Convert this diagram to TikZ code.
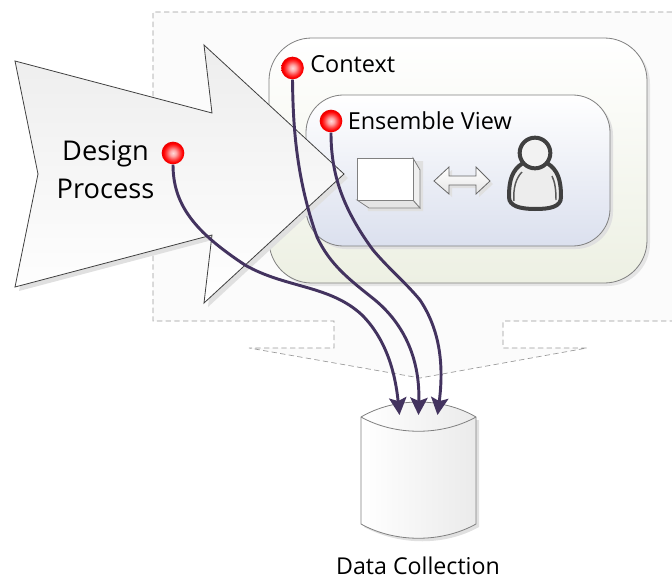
\documentclass[tikz,border=0pt]{standalone}
\usepackage{fontspec}
\setmainfont{Open Sans}
\usetikzlibrary{arrows.meta,shadings}
\definecolor{curvec}{HTML}{43335F}
\definecolor{edgec}{HTML}{808080}
\definecolor{ctxbottom}{HTML}{EDF0E3}
\definecolor{ensbottom}{HTML}{DBE0EE}
\pgfdeclareradialshading{ballshade}{\pgfpoint{0bp}{0bp}}{color(0bp)=(red!15!white); color(7bp)=(red!35!white); color(15bp)=(red!75!white); color(21bp)=(red); color(25bp)=(red!92!black); color(50bp)=(red!92!black)}
\tikzset{
  dot/.style={circle,minimum size=17pt,inner sep=0pt,draw=none,shading=ballshade},
  link/.style={draw=curvec,line width=2.2pt,-{Stealth[length=13pt,width=13pt,inset=2.5pt]}},
  lbl/.style={font=\fontsize{17.6pt}{20pt}\selectfont,inner sep=0pt,anchor=base west,text=black},
  shadowc/.style={fill=black!12,draw=none},
  thin edge/.style={draw=edgec,line width=0.6pt}
}
\begin{document}
\begin{tikzpicture}[x=0.75pt,y=-0.75pt]
\useasboundingbox (0,0) rectangle (672,579);
% dashed callout region
\path[fill=black!1.5,draw=black!40,dash pattern=on 4pt off 2.5pt,line width=0.5pt]
  (672,12) -- (153,12) -- (153,321) -- (334,321) -- (334,348) -- (249,348) -- (420,378)
  -- (587,348) -- (503,348) -- (503,321) -- (672,321);
% context
\fill[black!10,rounded corners=32pt] (272,41) rectangle (650,286);
\path[thin edge,rounded corners=32pt,top color=white,bottom color=ctxbottom]
  (269,38) rectangle (647,283);
% ensemble
\fill[black!12,rounded corners=28pt] (309,98) rectangle (613,249);
\path[thin edge,rounded corners=28pt,top color=white,bottom color=ensbottom]
  (306,95) rectangle (610,246);
% big arrow
\fill[shadowc] (19,65) -- (216,117) -- (208,49) -- (348,178) -- (208,307) -- (216,239) -- (19,291) -- (42,178) -- cycle;
\path[draw=black!75,line width=0.6pt,top color=black!7,bottom color=white]
  (15,61) -- (212,113) -- (204,45) -- (344,174) -- (204,303) -- (212,235) -- (15,287) -- (38,174) -- cycle;
\node[font=\fontsize{20.4pt}{28.5pt}\selectfont,align=center,inner sep=0pt,text=black] (design) at (105.5,170) {Design\\Process};
% box
\fill[black!12] (360,161) -- (423,161) -- (423,211) -- (368,211) -- cycle;
\path[thin edge,fill=black!10] (357,200) -- (413,200) -- (420,208) -- (369,208) -- cycle;
\path[thin edge,fill=black!6] (413,158) -- (420,170) -- (420,208) -- (413,200) -- cycle;
\path[thin edge,fill=white] (357,158) rectangle (413,200);
% double arrow
\fill[black!12] (437,184) -- (452,170) -- (452,179) -- (479,179) -- (479,170) -- (493,184) -- (479,197) -- (479,188) -- (452,188) -- (452,197) -- cycle;
\path[draw=black!60,line width=0.6pt,top color=white,bottom color=black!10]
  (434,181) -- (449,167) -- (449,176) -- (476,176) -- (476,167) -- (490,181) -- (476,194) -- (476,185) -- (449,185) -- (449,194) -- cycle;
% person
\path[draw=black!75,line width=3pt,fill=black!7,line join=round]
  (523,163) .. controls (512,170) and (509,180) .. (509,197)
  .. controls (509,206) and (520,209) .. (535,209)
  .. controls (550,209) and (561,207) .. (561,197)
  .. controls (561,180) and (558,170) .. (547,163) -- cycle;
\path[draw=black!65,line width=1.1pt] (514,201) .. controls (513,188) and (516,178) .. (522,172);
\path[draw=black!65,line width=1.1pt] (556,200) .. controls (556,190) and (555,182) .. (552,176);
\node[circle,draw=black!75,line width=3pt,fill=black!5,minimum size=23pt,inner sep=0pt] (head) at (535,153) {};
% cylinder
\fill[black!12] (364,420) -- (479,420) -- (479,527) .. controls (445,546) and (400,546) .. (364,527) -- cycle;
\path[thin edge,left color=white,right color=black!8]
  (361,417) .. controls (395,397) and (442,397) .. (476,417) -- (476,524)
  .. controls (442,543) and (395,543) .. (361,524) -- cycle;
\path[thin edge] (361,417) .. controls (395,436) and (442,436) .. (476,417);
\node[inner sep=0pt,minimum width=86pt,minimum height=102pt] (db) at (418.5,470) {};
\node[font=\fontsize{17.4pt}{20pt}\selectfont,text=black,inner sep=0pt,anchor=base] (dblabel) at (418,574) {Data Collection};
% labels
\node[lbl] (context) at (310,72) {Context};
\node[lbl] (ensemble) at (347.5,129) {Ensemble View};
% dots
\node[dot] (d1) at (173,153) {};
\node[dot] (d2) at (292.5,68) {};
\node[dot] (d3) at (331,121) {};
\coordinate (t1) at (399.5,415);
\coordinate (t2) at (418.5,415);
\coordinate (t3) at (437.5,415);
% curves
\draw[link] (d1.south) .. controls (173,205) and (195,232) .. (245,265)
   .. controls (285,288) and (330,285) .. (362,315) .. controls (385,338) and (395,370) .. (t1);
\draw[link] (d2.south) .. controls (293,120) and (295,175) .. (317,237)
   .. controls (330,265) and (350,280) .. (375,300) .. controls (405,325) and (420,360) .. (t2);
\draw[link] (d3.south) .. controls (331,170) and (340,205) .. (373,250)
   .. controls (390,270) and (405,282) .. (420,300) .. controls (440,330) and (444,365) .. (t3);
\end{tikzpicture}
\end{document}
